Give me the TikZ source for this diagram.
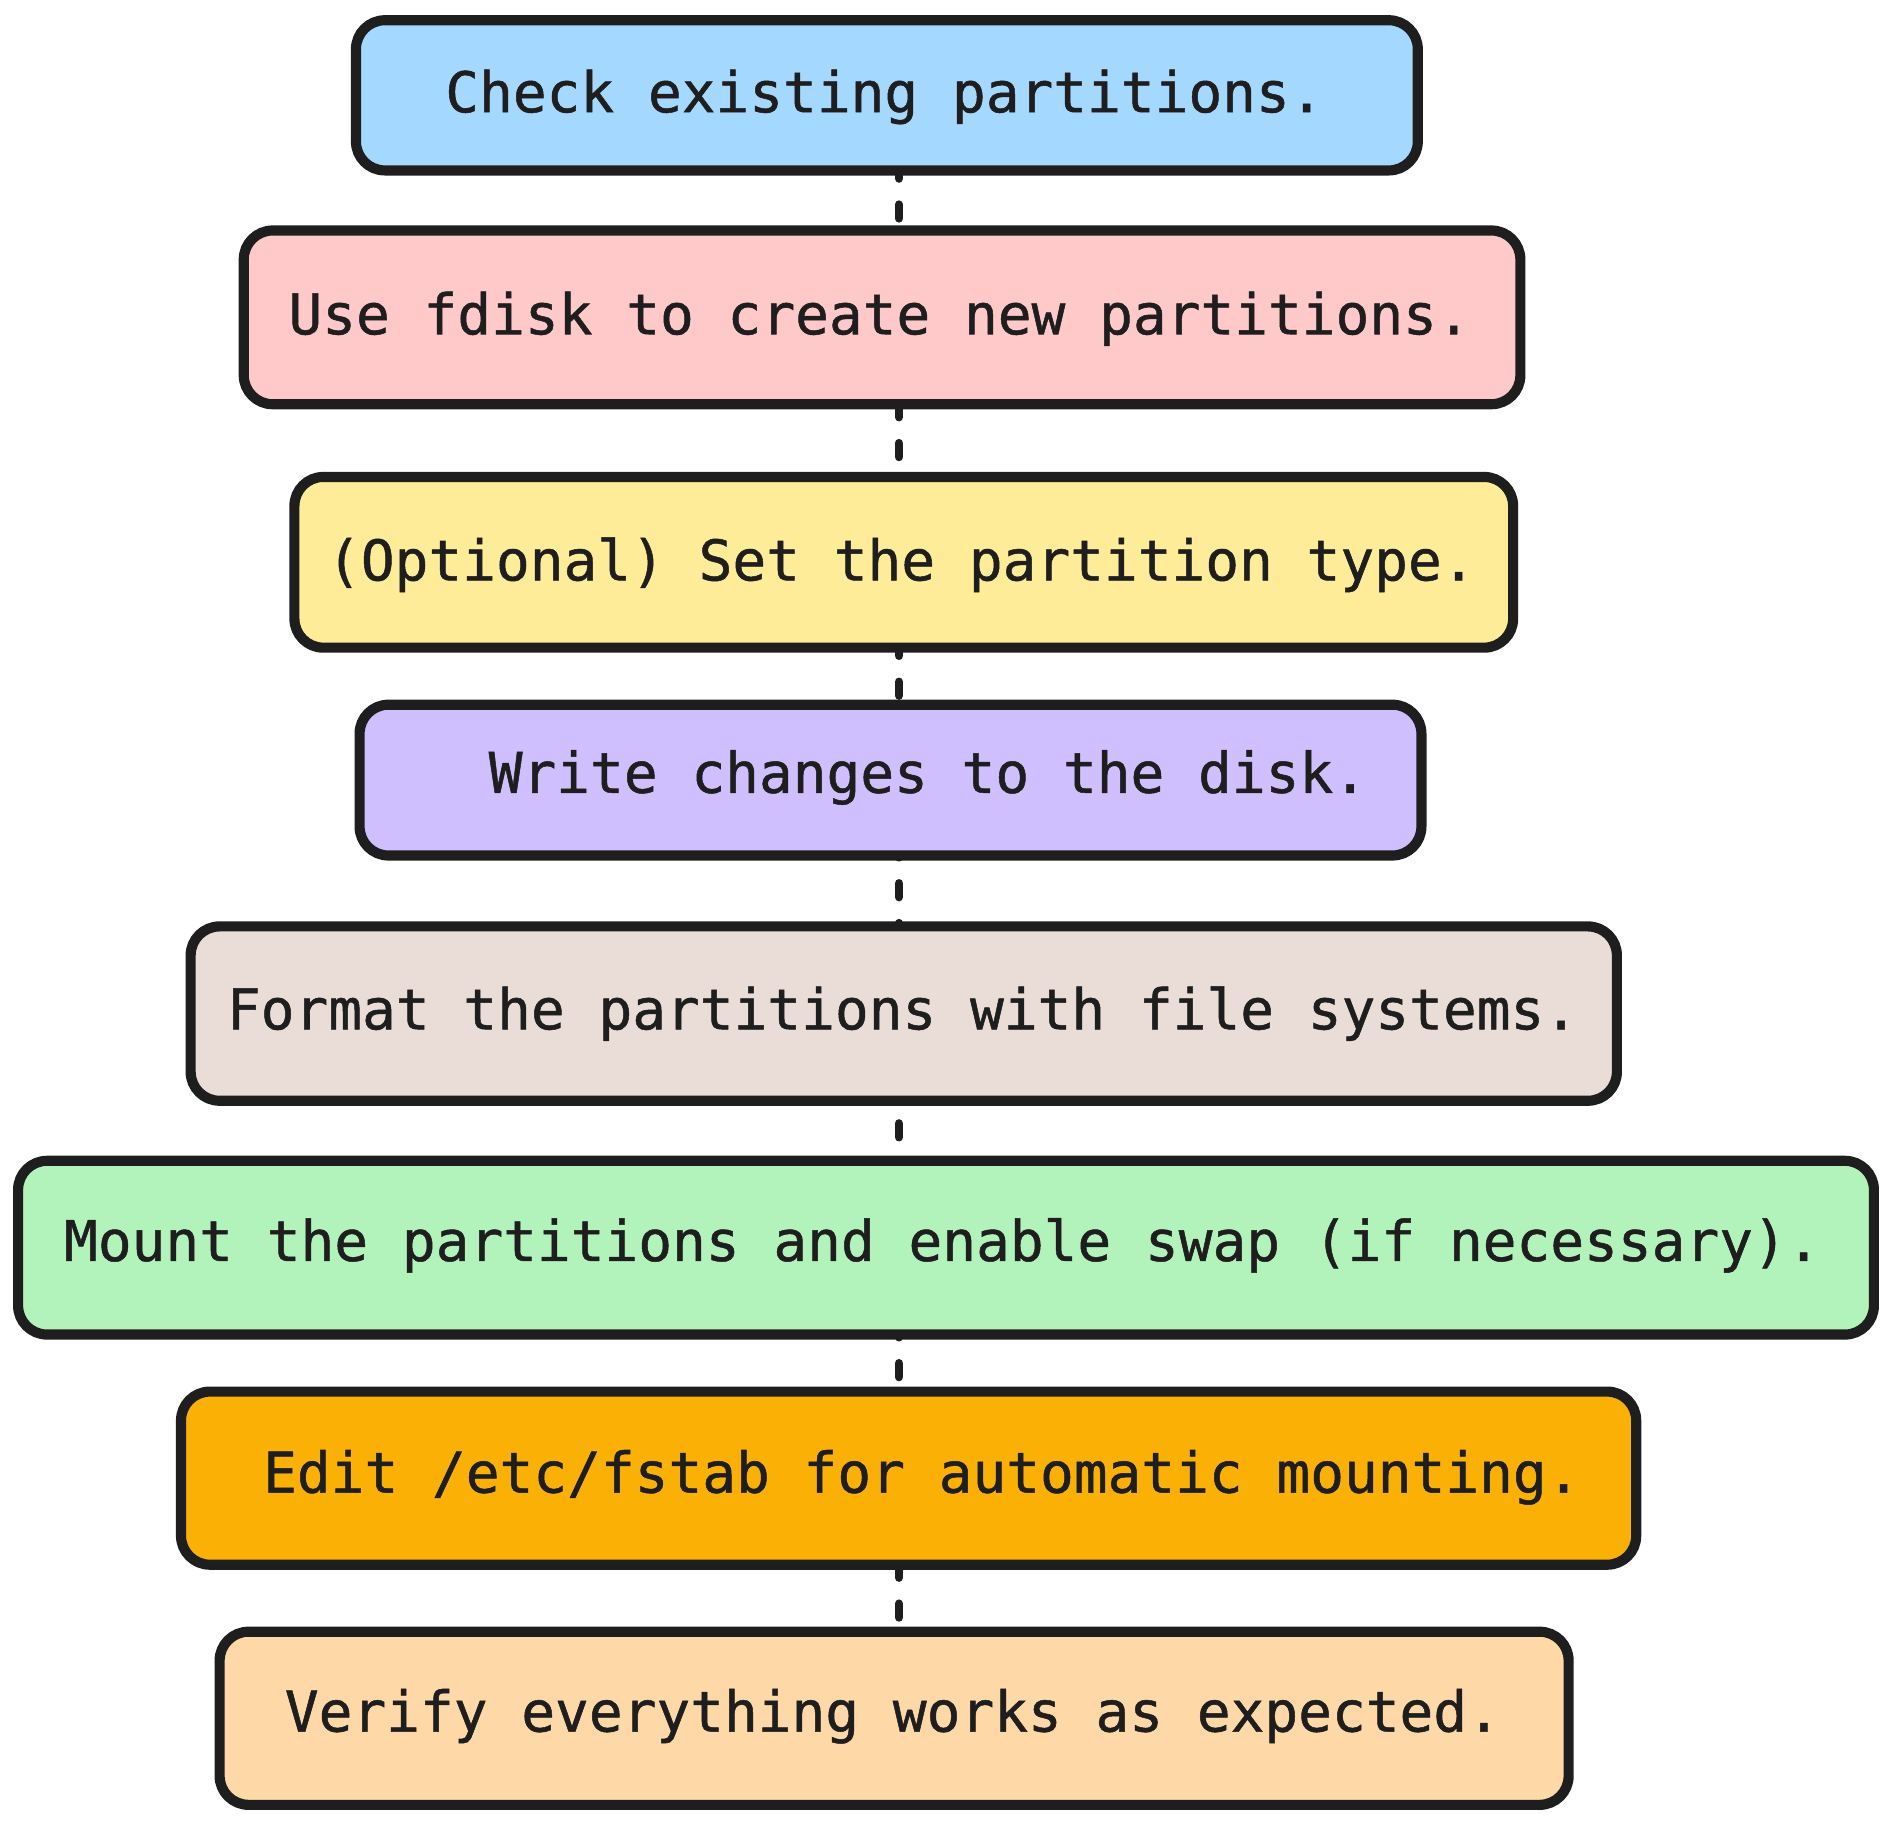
\documentclass[tikz,border=0pt]{standalone}
\usepackage{fontspec}
\newfontfamily\stepfont[FakeBold=0.9]{DejaVu Sans Mono}
\usetikzlibrary{backgrounds}
\definecolor{ink}{HTML}{1E1E1E}
\definecolor{fillA}{HTML}{A5D8FF}
\definecolor{fillB}{HTML}{FFC9C9}
\definecolor{fillC}{HTML}{FFEC99}
\definecolor{fillD}{HTML}{D0BFFF}
\definecolor{fillE}{HTML}{EADDD7}
\definecolor{fillF}{HTML}{B2F2BB}
\definecolor{fillG}{HTML}{FAB005}
\definecolor{fillH}{HTML}{FFD8A8}
\begin{document}
\begin{tikzpicture}[x=0.5pt,y=-0.5pt,
  stepbox/.style={draw=ink, line width=4.2pt, rounded corners=12pt,
    outer sep=0pt, inner sep=0pt},
  steptext/.style={text=ink, anchor=base, inner sep=0pt,
    font=\stepfont\fontsize{23.25pt}{28pt}\selectfont},
  link/.style={draw=ink, line width=3.5pt, line cap=round,
    dash pattern=on 5.75pt off 10.75pt}]
\useasboundingbox (0,0) rectangle (1568,1511);

% process steps
\node[stepbox, fill=fillA, minimum width=440pt, minimum height=62.25pt] (b1) at (735,79) {};
\node[stepbox, fill=fillB, minimum width=529pt, minimum height=72pt] (b2) at (731,263) {};
\node[stepbox, fill=fillC, minimum width=505pt, minimum height=70.75pt] (b3) at (749,466) {};
\node[stepbox, fill=fillD, minimum width=440pt, minimum height=62.5pt] (b4) at (738,646.5) {};
\node[stepbox, fill=fillE, minimum width=591pt, minimum height=72.25pt] (b5) at (749,840) {};
\node[stepbox, fill=fillF, minimum width=769pt, minimum height=72pt] (b6) at (784,1034) {};
\node[stepbox, fill=fillG, minimum width=603pt, minimum height=71.75pt] (b7) at (753,1225) {};
\node[stepbox, fill=fillH, minimum width=559pt, minimum height=71.75pt] (b8) at (741,1424) {};

% step labels
\node[steptext] (t1) at (733,93) {Check existing partitions.};
\node[steptext] (t2) at (729,277) {Use fdisk to create new partitions.};
\node[steptext] (t3) at (747,481) {(Optional) Set the partition type.};
\node[steptext] (t4) at (769,657) {Write changes to the disk.};
\node[steptext] (t5) at (748,853) {Format the partitions with file systems.};
\node[steptext] (t6) at (781,1045) {Mount the partitions and enable swap (if necessary).};
\node[steptext] (t7) at (764,1237) {Edit /etc/fstab for automatic mounting.};
\node[steptext] (t8) at (740,1435) {Verify everything works as expected.};

% dashed links between consecutive steps
\coordinate (lane) at (745,0);
\begin{pgfonlayer}{background}
\draw[link, dash phase=2.375pt] (b1.south -| lane) -- (b2.north -| lane);
\draw[link, dash phase=0.375pt] (b2.south -| lane) -- (b3.north -| lane);
\draw[link, dash phase=2.375pt] (b3.south -| lane) -- (b4.north -| lane);
\draw[link, dash phase=5pt] (b4.south -| lane) -- (b5.north -| lane);
\draw[link, dash phase=7.125pt] (b5.south -| lane) -- (b6.north -| lane);
\draw[link, dash phase=4.625pt] (b6.south -| lane) -- (b7.north -| lane);
\draw[link, dash phase=0.375pt] (b7.south -| lane) -- (b8.north -| lane);
\end{pgfonlayer}
\end{tikzpicture}
\end{document}
